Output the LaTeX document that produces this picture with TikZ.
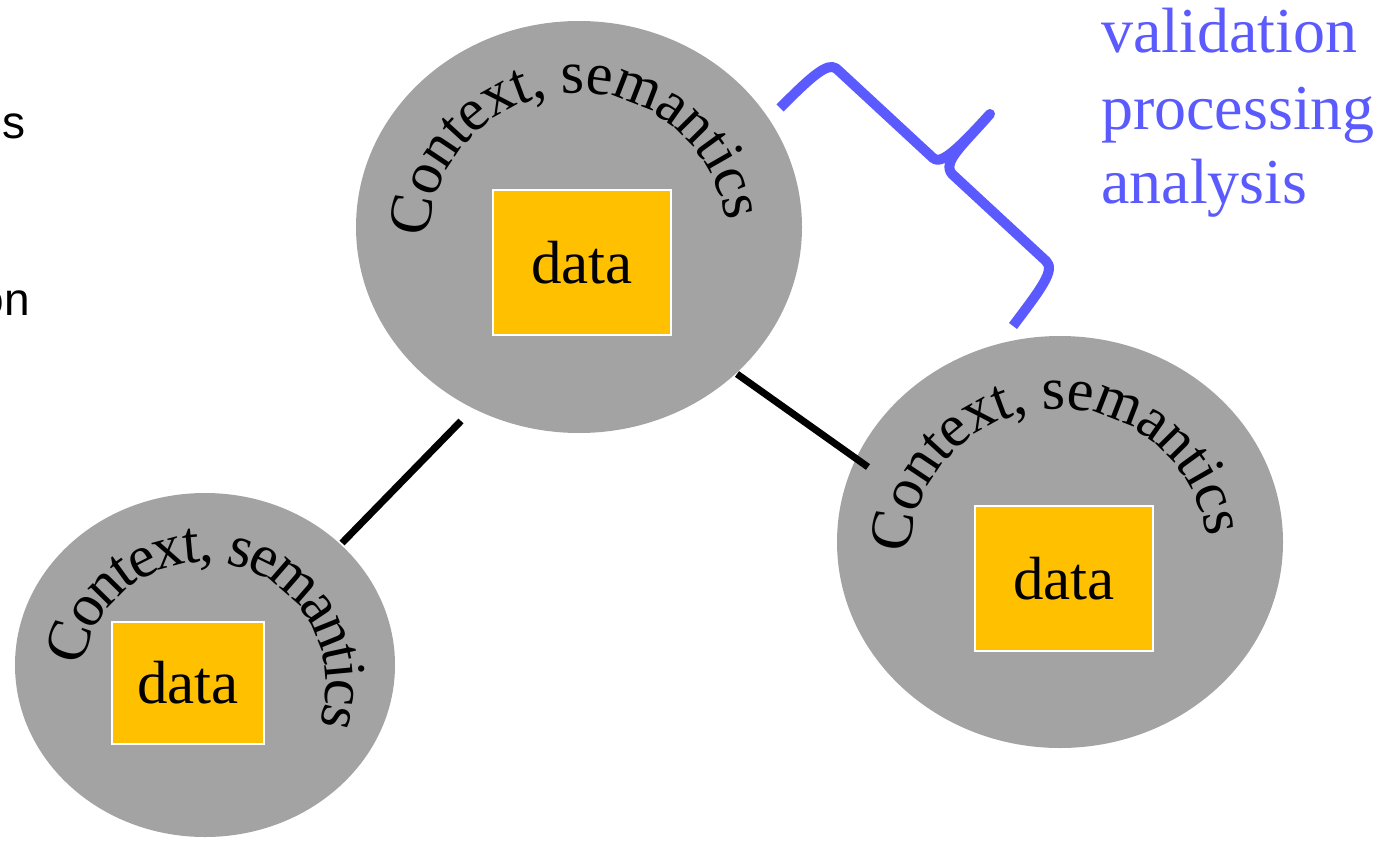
\documentclass[tikz,border=0pt]{standalone}
\usepackage{fontspec}
\setmainfont{Liberation Serif}
\newfontfamily\cutfont{Liberation Sans}
\usetikzlibrary{shapes.geometric,decorations.text}
\definecolor{ctxgrey}{RGB}{163,163,163}
\definecolor{datayel}{RGB}{255,192,0}
\definecolor{braceblue}{RGB}{90,90,255}
\begin{document}
\begin{tikzpicture}[x=1pt,y=1pt,
  ctx/.style={ellipse, fill=ctxgrey, draw=none, inner sep=0pt},
  databox/.style={rectangle, fill=datayel, draw=white, line width=1.2pt, inner sep=0pt, font=\fontsize{61}{70}\selectfont},
  link/.style={line width=7pt, black},
  bracestyle/.style={draw=braceblue, line width=10pt, line join=round},
  arctext/.style 2 args={decorate, decoration={text along path, text={|\fontsize{#1}{70}\selectfont|Context, semantics}, text align=center, raise=#2}},
  bluetext/.style={text=braceblue, font=\fontsize{64}{75}\selectfont, anchor=base west, inner sep=0pt},
  cuttext/.style={font=\cutfont\fontsize{46}{54}\selectfont, anchor=base east, inner sep=0pt}
]
\clip (0,0) rectangle (1399,-840);
\fill[white] (0,0) rectangle (1399,-840);

% left cut-off words
\node[cuttext] (cut1) at (26,-139) {s};
\node[cuttext] (cut2) at (30,-315) {on};

% ellipses
\node[ctx, minimum width=446pt, minimum height=412pt] (ctop) at (579,-227) {};
\node[ctx, minimum width=446pt, minimum height=412pt] (cright) at (1060,-542) {};
\node[ctx, minimum width=380pt, minimum height=344pt] (cleft) at (205,-665) {};

% curved labels
\path[arctext={60}{-5}] (578,-242) ++(183:154) arc[start angle=183, end angle=3, radius=154];
\path[arctext={60}{-5}] (1059,-558) ++(183:154) arc[start angle=183, end angle=3, radius=154];
\path[arctext={60}{-16}] (204,-684) ++(181:138) arc[start angle=181, end angle=-29, radius=138];

% data boxes
\node[databox, minimum width=178pt, minimum height=145pt] (dtop) at (582,-262.5) {data};
\node[databox, minimum width=178pt, minimum height=145pt] (dright) at (1064,-578.5) {data};
\node[databox, minimum width=152pt, minimum height=122pt] (dleft) at (188,-683) {data};

% connectors
\coordinate (l1a) at (461,-421);
\coordinate (l1b) at (342,-543);
\coordinate (l2a) at (737,-374);
\coordinate (l2b) at (868,-467);
\draw[link] (l1a) -- (l1b);
\draw[link] (l2a) -- (l2b);

% brace
\coordinate (br0) at (780,-108);
\coordinate (brtip) at (990,-114);
\coordinate (br9) at (1013,-326);
\draw[bracestyle] (br0) .. controls (802,-86) and (822,-66) .. (832,-67)
  .. controls (835,-67) and (837,-69) .. (839,-71)
  -- (933,-158) .. controls (940,-164) and (952,-156) .. (brtip)
  .. controls (962,-146) and (942,-162) .. (952,-174)
  -- (1046,-261) .. controls (1056,-270) and (1040,-290) .. (br9);

% blue labels
\node[bluetext] (t1) at (1101,-53) {validation};
\node[bluetext] (t2) at (1101,-130) {processing};
\node[bluetext] (t3) at (1101,-203) {analysis};
\end{tikzpicture}
\end{document}
